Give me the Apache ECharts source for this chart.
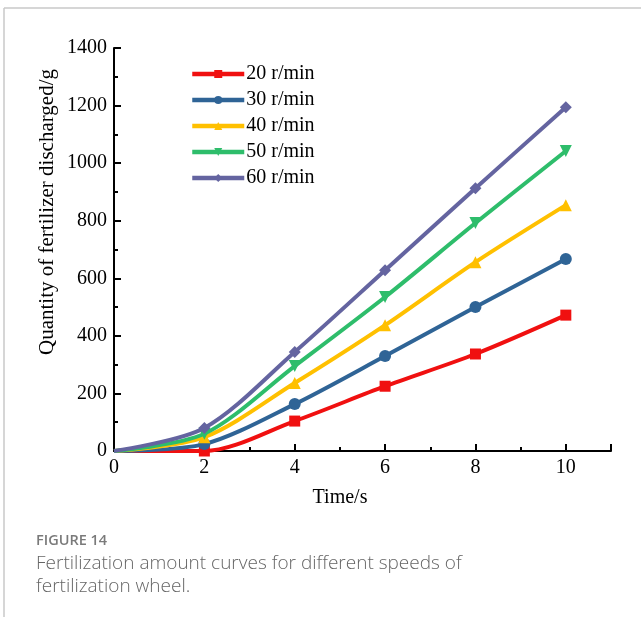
<!DOCTYPE html>
<html>
<head>
<meta charset="utf-8">
<script src="https://cdn.jsdelivr.net/npm/echarts@6/dist/echarts.min.js"></script>
<style>
  html, body { margin: 0; padding: 0; background: #fff; }
  #chart { width: 641px; height: 617px; }
</style>
</head>
<body>
<div id="chart"></div>
<script>
// time points (s)
const times = [0, 2, 4, 6, 8, 10];
const seriesNames = ['20 r/min', '30 r/min', '40 r/min', '50 r/min', '60 r/min'];
const v20 = [0, 0, 104, 225, 337, 472];
const v30 = [0, 24, 163, 330, 500, 667];
const v40 = [0, 48, 236, 437, 656, 854];
const v50 = [0, 60, 295, 535, 792, 1042];
const v60 = [0, 80, 344, 628, 913, 1194];
const allValues = [v20, v30, v40, v50, v60];

const colors = ['#f01010', '#2f6496', '#ffc000', '#2ebd6b', '#6464a0'];
const symbols = ['rect', 'circle', 'triangle', 'triangle', 'diamond'];
const rotates = [0, 0, 0, 180, 0];

const serif = '"Liberation Serif", "Times New Roman", serif';

const chart = echarts.init(document.getElementById('chart'));

const series = seriesNames.map((name, i) => ({
    name: name,
    type: 'line',
    // hide the marker at the origin
    data: times.map((t, j) => (j === 0 ? { value: [t, allValues[i][j]], symbolSize: 0 } : [t, allValues[i][j]])),
    smooth: 0.3,
    symbol: symbols[i],
    symbolRotate: rotates[i],
    symbolSize: i === 0 ? 11 : 12,
    showAllSymbol: true,
    lineStyle: { color: colors[i], width: 4 },
    itemStyle: { color: colors[i] },
    z: 2 + i
}));

chart.setOption({
    animation: false,
    backgroundColor: '#fff',
    grid: { left: 114, top: 48, right: 30, bottom: 166, containLabel: false },
    legend: {
        orient: 'vertical',
        left: 185,
        top: 59,
        itemWidth: 52,
        itemHeight: 10,
        itemGap: 6,
        lineStyle: { width: 4.5 },
        textStyle: { fontFamily: serif, fontSize: 20, color: '#000', padding: [0, 0, 0, -3] },
        data: seriesNames
    },
    xAxis: {
        type: 'value',
        min: 0,
        max: 11,
        interval: 2,
        axisLine: { show: true, lineStyle: { color: '#000', width: 2 } },
        axisTick: { show: true, inside: true, length: 7, lineStyle: { color: '#000', width: 2 } },
        minorTick: { show: true, splitNumber: 2, length: 4, lineStyle: { color: '#000', width: 2 } },
        axisLabel: {
            margin: 7, fontFamily: serif, fontSize: 20, color: '#000',
            formatter: v => (v > 10 ? '' : String(v))
        },
        splitLine: { show: false }
    },
    yAxis: {
        type: 'value',
        min: 0,
        max: 1400,
        interval: 200,
        axisLine: { show: true, lineStyle: { color: '#000', width: 2 } },
        axisTick: { show: true, inside: true, length: 7, lineStyle: { color: '#000', width: 2 } },
        minorTick: { show: true, splitNumber: 2, length: 4, lineStyle: { color: '#000', width: 2 } },
        axisLabel: { margin: 7, fontFamily: serif, fontSize: 20, color: '#000', formatter: v => String(v) },
        splitLine: { show: false }
    },
    graphic: [
        { type: 'line', shape: { x1: 4, y1: 8, x2: 641, y2: 8 }, style: { stroke: '#c8c8c8', lineWidth: 1.5 } },
        { type: 'line', shape: { x1: 4, y1: 8, x2: 4, y2: 617 }, style: { stroke: '#c8c8c8', lineWidth: 1.5 } },
        {
            type: 'text', x: 47, y: 212, rotation: Math.PI / 2,
            style: {
                text: 'Quantity of fertilizer discharged/g', font: '21px ' + serif,
                fill: '#000', align: 'center', verticalAlign: 'middle'
            }
        },
        {
            type: 'text', x: 340, y: 498,
            style: { text: 'Time/s', font: '20px ' + serif, fill: '#000', align: 'center', verticalAlign: 'middle' }
        },
        {
            type: 'text', x: 36, y: 541,
            style: { text: 'FIGURE 14', font: '600 14.5px "Open Sans", sans-serif', fill: '#7a7a7a', verticalAlign: 'middle' }
        },
        {
            type: 'text', x: 36, y: 564,
            style: {
                text: 'Fertilization amount curves for different speeds of',
                font: '300 19px "Open Sans", sans-serif', fill: '#666', verticalAlign: 'middle'
            }
        },
        {
            type: 'text', x: 36, y: 587,
            style: {
                text: 'fertilization wheel.',
                font: '300 19px "Open Sans", sans-serif', fill: '#666', verticalAlign: 'middle'
            }
        }
    ],
    series: series
});
</script>
</body>
</html>
